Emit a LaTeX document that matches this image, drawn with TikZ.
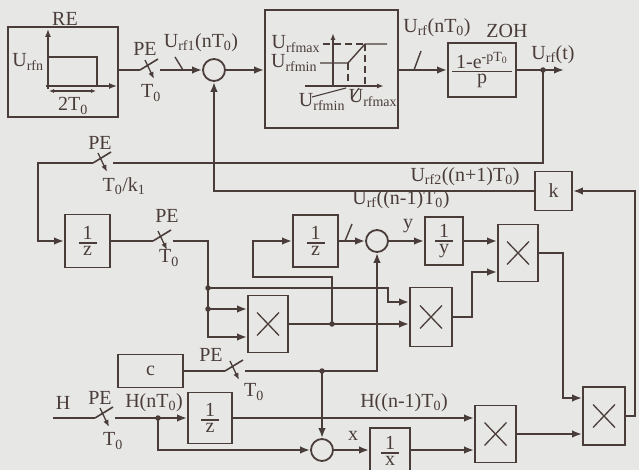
\documentclass[tikz,border=0pt]{standalone}
\usepackage{fontspec}
\setmainfont{Liberation Serif}
\usetikzlibrary{arrows.meta}
\definecolor{ink}{RGB}{74,60,57}
\definecolor{bg}{RGB}{231,232,230}
\newcommand\fs{\fontsize{20}{22}\selectfont}
\newcommand\sub[1]{\textsubscript{#1}}
\newcommand\fr[2]{${\hbox{\hspace{4pt}#1\hspace{4pt}}\above 1.5pt\hbox{#2}}$}
\tikzset{
  wire/.style={draw=ink, line width=1.8pt},
  arr/.style={wire, -{Latex[length=10pt,width=7.5pt]}},
  blk/.style={draw, line width=1.8pt, inner sep=0pt, font=\fs},
  sumc/.style={draw, circle, line width=1.8pt, minimum size=22pt, inner sep=0pt},
  mult/.style={blk, path picture={\draw[line width=1.3pt]
     (path picture bounding box.center) ++(-11,-11.5) -- ++(22,23)
     (path picture bounding box.center) ++(11,-11.5) -- ++(-22,23);}},
  lbl/.style={font=\fs, inner sep=0pt},
  jdot/.style={circle, fill=ink, inner sep=0pt, minimum size=5.5pt},
  sampler/.pic={\draw[line width=1.6pt] (0,0) -- (18,-11);
     \draw[line width=1.3pt,-{Latex[length=7pt,width=5.5pt]}] (5,-10) -- (14,9);}
}
\begin{document}
\begin{tikzpicture}[x=1pt,y=-1pt,color=ink,line width=1.8pt]
\useasboundingbox (0,0) rectangle (639,470);
\fill[bg] (0,0) rectangle (639,470);
\clip (0,0) rectangle (639,470);

% ---------- RE block
\node[blk, minimum width=110, minimum height=90] (re) at (63,72) {};
\node[lbl] (lre) at (65,19) {RE};
\node[lbl] (lurfn) at (28,62) {U\sub{rfn}};
\begin{scope}[line width=1.4pt]
\draw[-{Latex[length=8pt,width=6pt]}] (48,89) -- (48,29);
\draw[-{Latex[length=8pt,width=6pt]}] (46,86) -- (117,86);
\draw (48,57) -- (97,57) -- (97,86);
\draw[{Latex[length=5pt,width=4pt]}-{Latex[length=5pt,width=4pt]}, line width=1.1pt] (49,91) -- (96,91);
\end{scope}
\node[lbl] (l2t) at (73,106) {2T\sub{0}};

% ---------- sampler 1
\coordinate (s1i) at (140,70); \coordinate (s1o) at (160,70);
\draw[wire] (re.east |- s1i) -- (s1i);
\pic at (s1i) {sampler};
\node[lbl] (lpe1) at (145,49) {PE};
\node[lbl] (lt1) at (151,93) {T\sub{0}};

% ---------- summing 1
\node[sumc] (sum1) at (214,70) {};
\draw[arr] (s1o) -- (sum1.west);
\draw[wire,line width=1.4pt] (175,57) -- (183,70);
\node[lbl] (lu1) at (201,43) {U\sub{rf1}(nT\sub{0})};

% ---------- limiter
\node[blk, minimum width=133, minimum height=118] (lim) at (331.5,69) {};
\draw[arr] (sum1.east) -- (lim.west |- sum1);
\begin{scope}[line width=1.4pt]
\draw[-{Latex[length=7pt,width=5pt]}] (333,87) -- (333,33);
\draw[-{Latex[length=7pt,width=5pt]}] (305,86) -- (384,86);
\draw (320,63) -- (348,63) -- (365,44) -- (387,44);
\draw[dash pattern=on 7pt off 4pt] (323,44) -- (365,44) (348,63) -- (348,86) (365,44) -- (365,86);
\draw[line width=1.1pt] (312,97) -- (346,88);
\draw[line width=1.1pt] (352,98) -- (359,88);
\end{scope}
\node[lbl, anchor=east] (lmax1) at (321,44) {U\sub{rfmax}};
\node[lbl, anchor=east] (lmin1) at (318,63) {U\sub{rfmin}};
\node[lbl] (lmin2) at (322,102) {U\sub{rfmin}};
\node[lbl] (lmax2) at (373,98) {U\sub{rfmax}};

% ---------- ZOH
\node[blk, minimum width=68, minimum height=54] (zoh) at (482,70) {\fr{1-e\textsuperscript{-pT\sub{0}}}{p}};
\draw[arr] (lim.east |- zoh) -- (zoh.west);
\draw[wire,line width=1.4pt] (414,70) -- (421,51);
\node[lbl] (lu2) at (437,28) {U\sub{rf}(nT\sub{0})};
\node[lbl] (lzoh) at (507,31) {ZOH};
\coordinate (uo) at (564,70);
\draw[arr] (zoh.east) -- (uo);
\node[lbl] (lut) at (553,55) {U\sub{rf}(t)};
\node[jdot] (d1) at (543,70) {};

% ---------- feedback through T0/k1 sampler
\coordinate (s2i) at (93,163); \coordinate (s2o) at (113,163);
\draw[wire] (d1.center) |- (s2o);
\pic at (s2i) {sampler};
\node[lbl] (lpe2) at (100,143) {PE};
\node[lbl] (lt2) at (124,186) {T\sub{0}/k\sub{1}};
\node[blk, minimum width=45, minimum height=53] (z1) at (87.5,241) {\fr{1}{z}};
\draw[arr] (s2i) -- ++(-55,0) |- (z1.west);

% ---------- sampler 3
\coordinate (s3i) at (153,241); \coordinate (s3o) at (173,241);
\draw[wire] (z1.east) -- (s3i);
\pic at (s3i) {sampler};
\node[lbl] (lpe3) at (167,216) {PE};
\node[lbl] (lt3) at (169,258) {T\sub{0}};

% ---------- multipliers
\node[mult, minimum width=40, minimum height=57] (xb1) at (268,324) {};
\node[mult, minimum width=42, minimum height=59] (xb2) at (431,317) {};
\node[mult, minimum width=40, minimum height=57] (xb3) at (518,253) {};
\node[mult, minimum width=41, minimum height=57] (xb4) at (495.5,434) {};
\node[mult, minimum width=42, minimum height=58] (xb5) at (604,416) {};

\coordinate (c208) at (208,337);
\draw[arr] (s3o) -| (c208) -- (xb1.west |- c208);
\node[jdot] (d2) at (208,288) {};
\node[jdot] (d3) at (208,309) {};
\draw[arr] (d3.center) -- ([yshift=15pt]xb1.west);
\draw[arr] (d2.center) -- (388,288) -- (388,302) -- ([yshift=15pt]xb2.west);
\draw[arr] (xb1.east) -- ([yshift=-7pt]xb2.west);
\node[jdot] (d5) at (332,324) {};

% ---------- second 1/z and summing 2
\node[blk, minimum width=45, minimum height=52] (z2) at (315.5,241) {\fr{1}{z}};
\draw[arr] (d5.center) -- (332,277) -- (253,277) |- (z2.west);
\node[sumc] (sum2) at (377,241) {};
\draw[arr] (z2.east) -- (sum2.west);
\draw[wire,line width=1.4pt] (345,241) -- (352,224);
\node[lbl] (lu3) at (401,200) {U\sub{rf}((n-1)T\sub{0})};
\node[blk, minimum width=38, minimum height=48] (iy) at (444,241) {\fr{1}{y}};
\draw[arr] (sum2.east) -- (iy.west);
\node[lbl] (ly) at (408,226) {y};
\draw[arr] (iy.east) -- ([yshift=12pt]xb3.west);
\draw[arr] (xb2.east) -- (472,317) |- ([yshift=-19pt]xb3.west);
\draw[arr] (xb3.east) -- (563,253) |- ([yshift=18pt]xb5.west);

% ---------- k feedback
\node[blk, minimum width=37, minimum height=39] (k) at (553.5,191) {k};
\draw[arr] (xb5.east) -- (635,416) |- (k.east);
\draw[arr] (k.west) -| (sum1.south);
\node[lbl] (lu4) at (465,177) {U\sub{rf2}((n+1)T\sub{0})};

% ---------- c branch
\node[blk, minimum width=65, minimum height=33] (c) at (150.5,371) {c};
\coordinate (s4i) at (225,371); \coordinate (s4o) at (245,371);
\draw[wire] (c.east) -- (s4i);
\pic at (s4i) {sampler};
\node[lbl] (lpe4) at (211,355) {PE};
\node[lbl] (lt4) at (254,392) {T\sub{0}};
\draw[arr] (s4o) -| (sum2.south);
\node[jdot] (d4) at (322,371) {};
\node[sumc] (sum3) at (322,450) {};
\draw[arr] (d4.center) -- (sum3.north);

% ---------- H branch
\coordinate (hin) at (53,418);
\node[lbl] (lh) at (63,403) {H};
\coordinate (s5i) at (95,418); \coordinate (s5o) at (115,418);
\draw[wire] (hin) -- (s5i);
\pic at (s5i) {sampler};
\node[lbl] (lpe5) at (100,398) {PE};
\node[lbl] (lt5) at (113,441) {T\sub{0}};
\node[blk, minimum width=44, minimum height=51] (z3) at (210,418) {\fr{1}{z}};
\draw[arr] (s5o) -- (z3.west);
\node[lbl] (lhn) at (154,403) {H(nT\sub{0})};
\node[jdot] (d6) at (158,418) {};
\draw[arr] (d6.center) |- (sum3.west);
\draw[arr] (z3.east) -- ([yshift=16pt]xb4.west);
\node[lbl] (lhn1) at (404,403) {H((n-1)T\sub{0})};
\node[blk, minimum width=40, minimum height=46] (ix) at (390,451) {\fr{1}{x}};
\draw[arr] (sum3.east) -- (ix.west |- sum3);
\node[lbl] (lx) at (353,436) {x};
\draw[arr] (ix.east |- sum3) -- ([yshift=-16pt]xb4.west);
\draw[arr] (xb4.east) -- ([yshift=-18pt]xb5.west);
\end{tikzpicture}
\end{document}
